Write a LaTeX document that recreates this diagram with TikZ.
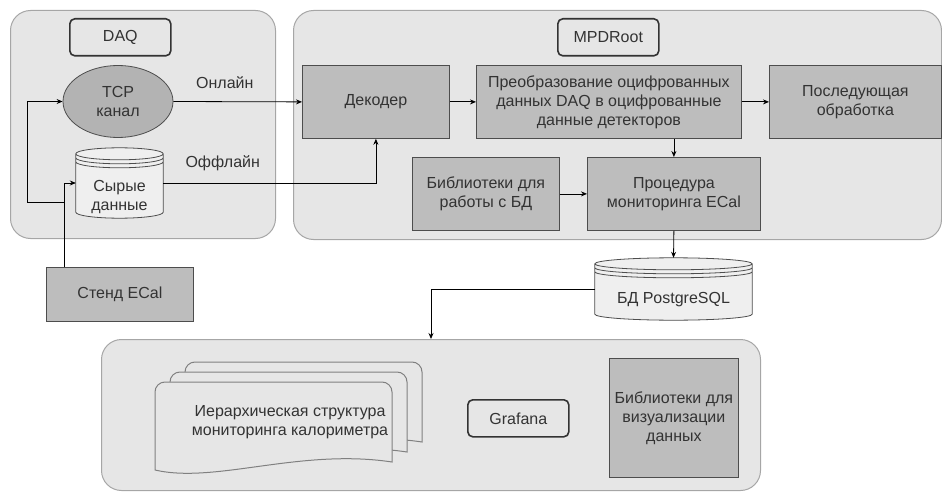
\documentclass[tikz,border=0pt]{standalone}
\usepackage{fontspec}
\setmainfont{Liberation Sans}
\usepackage{xcolor}
\usepackage{tikz}
\usetikzlibrary{positioning}
\usetikzlibrary{calc,arrows.meta}
\usetikzlibrary{shapes.geometric}

\definecolor{panelfill}{HTML}{E6E6E6}
\definecolor{paneledge}{HTML}{A6A6A6}
\definecolor{blockfill}{HTML}{BDBDBD}
\definecolor{tcpfill}{HTML}{B3B3B3}
\definecolor{blockedge}{HTML}{4D4D4D}
\definecolor{inktext}{HTML}{333333}
\definecolor{storefill}{HTML}{EFEFEF}
\definecolor{pageedge}{HTML}{808080}

% cylinder drawn round an empty node
\newcommand{\drawstore}[1]{%
  \draw[draw=blockedge,fill=storefill,line width=0.8pt]
    let \p1=(#1.north west), \p2=(#1.south east), \n1={(\x2-\x1)/2} in
    (\x1,\y1-6pt) -- (\x1,\y2+6pt)
    arc[start angle=180,end angle=360,x radius=\n1,y radius=6pt]
    -- (\x2,\y1-6pt)
    arc[start angle=0,end angle=180,x radius=\n1,y radius=6pt] -- cycle
    (\x1,\y1-6pt) arc[start angle=180,end angle=360,x radius=\n1,y radius=6pt]
    (\x1,\y1-10pt) arc[start angle=180,end angle=360,x radius=\n1,y radius=6pt]
    (\x1,\y1-14pt) arc[start angle=180,end angle=360,x radius=\n1,y radius=6pt];}

% one sheet of the stacked document
\newcommand{\drawpage}[2]{%
  \draw[draw=pageedge,fill=panelfill,line width=1pt,shift={(#1,#2)}]
    [rounded corners=10pt] (155,470) -- (155,382) -- (392,382)
    [sharp corners] -- (392,462)
    .. controls (300,448) and (215,484) .. (155,470) -- cycle;}

\begin{document}
\begin{tikzpicture}[x=1pt,y=-1pt,
  font=\fontsize{16}{19}\selectfont, text=inktext,
  panel/.style={draw=paneledge,fill=panelfill,rounded corners=20pt,line width=1pt,anchor=north west,inner sep=0pt},
  titlebox/.style={draw=black!80,fill=panelfill,rounded corners=5pt,line width=1.6pt,anchor=north west,minimum width=101pt,minimum height=37pt,inner sep=0pt},
  block/.style={draw=blockedge,fill=blockfill,line width=0.8pt,anchor=north west,align=center,inner sep=0pt},
  store/.style={inner sep=0pt},
  flow/.style={draw=black,line width=0.8pt,-{Stealth[length=6pt,width=5pt]}},
  wire/.style={draw=black,line width=0.8pt}]
\useasboundingbox (0,0) rectangle (942,492);

% panels
\node (daqpanel) [panel, minimum width=265pt, minimum height=228pt] at (10,10) {};
\node (mpdpanel) [panel, minimum width=648pt, minimum height=229pt] at (293,10) {};
\node (vispanel) [panel, minimum width=659pt, minimum height=151pt] at (101,339) {};

\node (daq) [titlebox] at (69,18) {DAQ};
\node (mpd) [titlebox] at (557,18) {MPDRoot};
\node (grafana) [titlebox] at (467,399) {Grafana};

% DAQ part
\node (tcp) [draw=blockedge, fill=tcpfill, line width=0.8pt, ellipse, minimum width=110pt, minimum height=72pt, inner sep=0pt, align=center] at (118,101.5) {TCP\\канал};
\node (raw) [store, minimum width=87pt, minimum height=70pt] at (119.5,183) {};
\drawstore{raw}
\node (rawtext) [align=center] at ([yshift=-14pt]raw.center) {Сырые\\данные};
\node (stand) [block, minimum width=147pt, minimum height=54pt] at (46,267) {Стенд ECal};

% MPDRoot part
\node (dec) [block, minimum width=147pt, minimum height=73pt] at (302,65) {Декодер};
\node (conv) [block, minimum width=265pt, minimum height=73pt] at (476,65) {Преобразование оцифрованных\\данных DAQ в оцифрованные\\данные детекторов};
\node (post) [block, minimum width=172pt, minimum height=73pt] at (769,65) {Последующая\\обработка};
\node (lib) [block, minimum width=147pt, minimum height=73pt] at (412,157) {Библиотеки для\\работы с БД};
\node (proc) [block, minimum width=173pt, minimum height=73pt] at (587,157) {Процедура\\мониторинга ECal};

% database
\node (db) [store, minimum width=157pt, minimum height=62pt] at (673.5,289) {};
\drawstore{db}
\node (dbtext) at ([yshift=-11pt]db.center) {БД PostgreSQL};

% visualisation part
\drawpage{30}{-20}
\drawpage{15}{-10}
\drawpage{0}{0}
\node (hier) [align=center] at (290,422) {Иерархическая структура\\мониторинга калориметра};
\node (vislib) [block, minimum width=129pt, minimum height=119pt] at (609,358) {Библиотеки для\\визуализации\\данных};

% connectors
\coordinate (fork) at (64,202);
\draw [flow] ([xshift=18pt]stand.north west) |- (raw.west);
\draw [flow] (fork) -- ++(-37,0) |- (tcp.west);
\draw [flow] (tcp.east) -- (dec.west) node (online) [pos=0.4, above=9pt] {Онлайн};
\draw [flow] (raw.east) -| (dec.south) node (offline) [pos=0.14, above=8pt] {Оффлайн};
\draw [flow] (dec) -- (conv);
\draw [flow] (conv) -- (post);
\draw [flow] (conv.south -| proc.north) -- (proc.north);
\draw [flow] (lib) -- (proc);
\draw [flow] (proc.south) -- (db.north);
\draw [flow] (db.west) -| (vispanel.north);
\end{tikzpicture}
\end{document}
